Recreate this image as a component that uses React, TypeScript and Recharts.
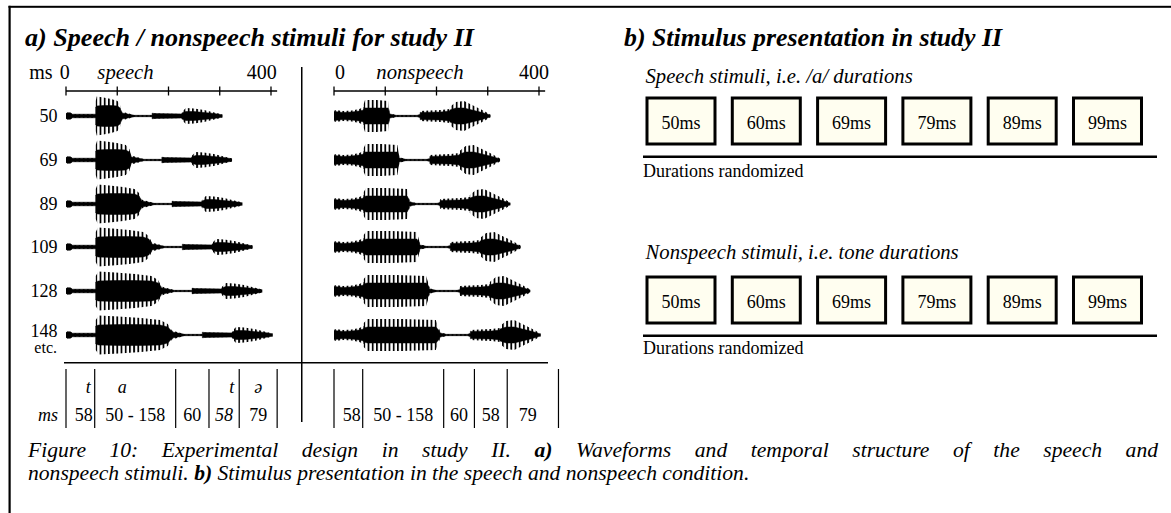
import React from 'react';
import {
  ComposedChart,
  Area,
  Scatter,
  XAxis,
  YAxis,
  BarChart,
  Bar,
  LabelList,
} from 'recharts';

const FONT = "'Liberation Serif', 'Times New Roman', Times, serif";

// ---------------- data ----------------
const VOWEL_DURATIONS = [50, 69, 89, 109, 128, 148];
const ROW_LABELS = ['50', '69', '89', '109', '128', '148'];
const AXIS_TICKS = [0, 100, 200, 300, 400];
const AXIS_MAX = 412;
const TABLE_MAX = 450;
const BURST1_MS = 58;
const CLOSURE_MS = 60;
const BURST2_MS = 58;
const SCHWA_MS = 79;

// segment boundaries (ms) of the table under the waveforms
const SPEECH_BOUNDS = [0, 56, 214, 279, 338, 412];
const NONSPEECH_BOUNDS = [0, 56, 214, 274, 338, 438];
const SPEECH_PHONES = ['t', 'a', '', 't', 'ə'];
const SPEECH_MS = ['58', '50 - 158', '60', '58', '79'];
const NONSPEECH_MS = ['58', '50 - 158', '60', '58', '79'];

const BOX_LABELS = ['50ms', '60ms', '69ms', '79ms', '89ms', '99ms'];

// envelope profiles: [fraction of segment, inner half-amplitude, outer half-amplitude]
const SPEECH_BURST1 = [[0, 2.2, 2.2], [0.04, 3.3, 3.3], [0.14, 3.3, 3.3], [0.22, 1.8, 1.8], [1, 1.8, 1.8]];
const SPEECH_VOWEL = [[0, 9, 15], [0.04, 10, 19.5], [0.3, 10.5, 18.5], [0.6, 10.5, 17], [0.85, 10, 15], [0.95, 8, 11], [1, 4, 5]];
const SPEECH_CLOSURE = [[0, 3, 4.5], [0.12, 2.5, 3.5], [0.3, 1.4, 2], [0.42, 0.7, 0.7], [1, 0.7, 0.7]];
const SPEECH_BURST2 = [[0, 2.8, 2.8], [0.1, 2.4, 2.4], [1, 2.1, 2.1]];
const SPEECH_SCHWA = [[0, 3, 4], [0.1, 4.5, 8], [0.3, 4.5, 7.5], [0.55, 3.5, 6], [0.8, 2.5, 3.5], [1, 1.2, 1.5]];

const TONE_1 = [[0, 3, 4], [0.03, 4.5, 6], [0.3, 3.5, 5], [0.6, 4, 5.5], [0.85, 5, 7], [1, 6, 9]];
const TONE_D = [[0, 7, 12], [0.05, 8, 16], [0.5, 8, 16], [0.95, 8, 15], [1, 4, 5]];
const TONE_GAP = [[0, 2, 2.5], [0.1, 1.5, 2], [0.22, 0.7, 0.7], [0.9, 0.7, 0.7], [1, 1.5, 1.5]];
const TONE_3 = [[0, 3.5, 5], [0.3, 3.8, 5.5], [0.7, 4, 6], [1, 5, 7]];
const TONE_4 = [[0, 6, 9], [0.15, 8, 14], [0.35, 8, 15], [0.55, 6, 11], [0.8, 3.5, 6], [1, 1, 1.5]];

// ---------------- layout ----------------
const PX_PER_MS = 0.5125;
const PLOT_W = AXIS_MAX * PX_PER_MS;
const TABLE_W = TABLE_MAX * PX_PER_MS;
const SPEECH_X0 = 65.7;
const NONSPEECH_X0 = 334.3;
const ROW_TOP_CENTER = 116;
const ROW_GAP = 43.8;
const ROW_H = 44;

type Seg = { dur: number; profile: number[][] };

function buildEnvelope(segs: Seg[]) {
  const pts: { t: number; inner: number[]; outer: number[] }[] = [];
  let start = 0;
  segs.forEach((s) => {
    s.profile.forEach(([f, i, o]) => {
      pts.push({ t: start + f * s.dur, inner: [-i, i], outer: [-o, o] });
    });
    start += s.dur;
  });
  return pts;
}

const speechRows = VOWEL_DURATIONS.map((d) =>
  buildEnvelope([
    { dur: BURST1_MS, profile: SPEECH_BURST1 },
    { dur: d, profile: SPEECH_VOWEL },
    { dur: CLOSURE_MS, profile: SPEECH_CLOSURE },
    { dur: BURST2_MS, profile: SPEECH_BURST2 },
    { dur: SCHWA_MS, profile: SPEECH_SCHWA },
  ])
);

const nonspeechRows = VOWEL_DURATIONS.map((d) =>
  buildEnvelope([
    { dur: BURST1_MS, profile: TONE_1 },
    { dur: d, profile: TONE_D },
    { dur: CLOSURE_MS, profile: TONE_GAP },
    { dur: BURST2_MS, profile: TONE_3 },
    { dur: SCHWA_MS, profile: TONE_4 },
  ])
);

function WaveRow({ data, left, centerY, id }: { data: any[]; left: number; centerY: number; id: string }) {
  return (
    <div style={{ position: 'absolute', left, top: centerY - ROW_H / 2 }}>
      <ComposedChart width={PLOT_W} height={ROW_H} data={data} margin={{ top: 0, right: 0, bottom: 0, left: 0 }}>
        <defs>
          <pattern id={id} width={4.2} height={ROW_H} patternUnits="userSpaceOnUse">
            <rect x={0} y={0} width={1.8} height={ROW_H} fill="#000" />
          </pattern>
        </defs>
        <XAxis dataKey="t" type="number" domain={[0, AXIS_MAX]} hide allowDataOverflow />
        <YAxis type="number" domain={[-ROW_H / 2, ROW_H / 2]} hide allowDataOverflow />
        <Area
          dataKey="outer"
          type="linear"
          stroke="none"
          fill={`url(#${id})`}
          fillOpacity={1}
          isAnimationActive={false}
          dot={false}
          activeDot={false}
        />
        <Area
          dataKey="inner"
          type="linear"
          stroke="#000"
          strokeWidth={0.5}
          fill="#000"
          fillOpacity={1}
          isAnimationActive={false}
          dot={false}
          activeDot={false}
        />
      </ComposedChart>
    </div>
  );
}

function AxisTick(props: any) {
  const { x, y } = props;
  return <line x1={x} x2={x} y1={y - 4.5} y2={y + 4.5} stroke="#000" strokeWidth={1.3} />;
}

function TopAxis({ left }: { left: number }) {
  const pad = 4;
  return (
    <div style={{ position: 'absolute', left: left - pad, top: 55 }}>
      <ComposedChart
        width={PLOT_W + 2 * pad}
        height={46}
        data={AXIS_TICKS.map((t) => ({ t }))}
        margin={{ top: 0, right: pad, bottom: 0, left: pad }}
      >
        <XAxis
          dataKey="t"
          type="number"
          orientation="top"
          domain={[0, AXIS_MAX]}
          ticks={AXIS_TICKS}
          interval={0}
          height={36}
          tickSize={0}
          tickMargin={0}
          tickLine={false}
          axisLine={{ stroke: '#000', strokeWidth: 1.3 }}
          tick={<AxisTick />}
          allowDataOverflow
        />
        <YAxis type="number" domain={[0, 1]} hide />
      </ComposedChart>
    </div>
  );
}

const TABLE_TOP = 369;
const TABLE_H = 59;

function VLineShape(props: any) {
  const { cx } = props;
  if (cx == null) return null;
  return <line x1={cx} x2={cx} y1={0} y2={TABLE_H} stroke="#000" strokeWidth={1.2} />;
}

function CellShape(props: any) {
  const { cx, cy, payload } = props;
  if (cx == null || !payload || !payload.label) return null;
  return (
    <text
      x={cx}
      y={cy + payload.dy}
      textAnchor={payload.anchor}
      fontFamily={FONT}
      fontSize={18}
      fontStyle={payload.italic ? 'italic' : 'normal'}
      fill="#000"
    >
      {payload.label}
    </text>
  );
}

type CellStyle = { align: any; pad?: number; italic?: boolean };

function cellMarks(labels: string[], bounds: number[], styles: CellStyle[], y: number, dy: number) {
  return labels.map((label, i) => {
    const s = styles[i];
    const a = bounds[i];
    const b = bounds[i + 1];
    let t = (a + b) / 2;
    let anchor = 'middle';
    if (s.align === 'end') {
      t = b - (s.pad || 0) / PX_PER_MS;
      anchor = 'end';
    } else if (typeof s.align === 'number') {
      t = a + (b - a) * s.align;
    }
    return { t, y, label, anchor, italic: !!s.italic, dy };
  });
}

function SegmentTable({
  left,
  bounds,
  top,
  bottom,
  topStyle,
  bottomStyle,
}: {
  left: number;
  bounds: number[];
  top: string[] | null;
  bottom: string[];
  topStyle: CellStyle[];
  bottomStyle: CellStyle[];
}) {
  const pad = 3;
  const lines = bounds.map((t) => ({ t, y: 1 }));
  const topCells = top ? cellMarks(top, bounds, topStyle, 1.5, 9.3) : [];
  const bottomCells = cellMarks(bottom, bounds, bottomStyle, 0.5, 7.3);
  return (
    <div style={{ position: 'absolute', left: left - pad, top: TABLE_TOP }}>
      <ComposedChart width={TABLE_W + 2 * pad} height={TABLE_H} margin={{ top: 0, right: pad, bottom: 0, left: pad }}>
        <XAxis dataKey="t" type="number" domain={[0, TABLE_MAX]} hide />
        <YAxis dataKey="y" type="number" domain={[0, 2]} hide />
        <Scatter data={lines} shape={<VLineShape />} isAnimationActive={false} />
        {topCells.length > 0 && <Scatter data={topCells} shape={<CellShape />} isAnimationActive={false} />}
        <Scatter data={bottomCells} shape={<CellShape />} isAnimationActive={false} />
      </ComposedChart>
    </div>
  );
}

function BoxRow({ top }: { top: number }) {
  const data = BOX_LABELS.map((label) => ({ label, v: 1 }));
  return (
    <div style={{ position: 'absolute', left: 638.3, top: top - 3 }}>
      <BarChart
        width={511.8}
        height={52}
        data={data}
        margin={{ top: 3, right: 0, bottom: 3, left: 0 }}
        barCategoryGap={0}
      >
        <XAxis dataKey="label" type="category" hide />
        <YAxis type="number" domain={[0, 1]} hide />
        <Bar dataKey="v" barSize={68} fill="#FFFEF0" stroke="#000" strokeWidth={3} isAnimationActive={false}>
          <LabelList dataKey="label" position="center" fill="#000" fontSize={18} fontFamily={FONT} dy={2} />
        </Bar>
      </BarChart>
    </div>
  );
}

const speechTopStyle: CellStyle[] = [
  { align: 'end', pad: 4, italic: true },
  { align: 0.34, italic: true },
  { align: 0.5 },
  { align: 'end', pad: 5, italic: true },
  { align: 0.5, italic: true },
];
const speechBottomStyle: CellStyle[] = [
  { align: 'end', pad: 2 },
  { align: 0.5 },
  { align: 0.5 },
  { align: 0.5, italic: true },
  { align: 0.5 },
];
const nonspeechBottomStyle: CellStyle[] = [
  { align: 'end', pad: 2 },
  { align: 0.5 },
  { align: 0.5 },
  { align: 0.5 },
  { align: 0.4 },
];

export default function App() {
  const rowCenters = VOWEL_DURATIONS.map((_, i) => ROW_TOP_CENTER + i * ROW_GAP);
  const txt = { fontFamily: FONT, fill: '#000' } as any;
  return (
    <div
      style={{
        position: 'absolute',
        left: 0,
        top: 0,
        width: 1171,
        height: 513,
        background: '#fff',
        overflow: 'hidden',
        fontFamily: FONT,
      }}
    >
      <TopAxis left={SPEECH_X0} />
      <TopAxis left={NONSPEECH_X0} />
      {speechRows.map((d, i) => (
        <WaveRow key={`s${i}`} data={d} left={SPEECH_X0} centerY={rowCenters[i]} id={`sp${i}`} />
      ))}
      {nonspeechRows.map((d, i) => (
        <WaveRow key={`n${i}`} data={d} left={NONSPEECH_X0} centerY={rowCenters[i]} id={`ns${i}`} />
      ))}
      <SegmentTable
        left={SPEECH_X0}
        bounds={SPEECH_BOUNDS}
        top={SPEECH_PHONES}
        bottom={SPEECH_MS}
        topStyle={speechTopStyle}
        bottomStyle={speechBottomStyle}
      />
      <SegmentTable
        left={NONSPEECH_X0}
        bounds={NONSPEECH_BOUNDS}
        top={null}
        bottom={NONSPEECH_MS}
        topStyle={[]}
        bottomStyle={nonspeechBottomStyle}
      />
      <BoxRow top={98} />
      <BoxRow top={276.5} />

      <svg
        width={1171}
        height={513}
        style={{ position: 'absolute', left: 0, top: 0, pointerEvents: 'none' }}
      >
        {/* frame */}
        <rect x={8.5} y={5.8} width={1163} height={2} fill="#000" />
        <rect x={8.5} y={5.8} width={2.2} height={510} fill="#000" />

        {/* titles */}
        <text {...txt} x={25} y={46} fontSize={26} fontWeight="bold" fontStyle="italic" textLength={449} lengthAdjust="spacingAndGlyphs">
          a) Speech / nonspeech stimuli for study II
        </text>
        <text {...txt} x={624} y={46} fontSize={26} fontWeight="bold" fontStyle="italic" textLength={378} lengthAdjust="spacingAndGlyphs">
          b) Stimulus presentation in study II
        </text>

        {/* axis annotations */}
        <text {...txt} x={29.3} y={79} fontSize={20}>ms</text>
        <text {...txt} x={64.7} y={79} fontSize={20} textAnchor="middle">0</text>
        <text {...txt} x={125.5} y={79} fontSize={20.7} fontStyle="italic" textAnchor="middle">speech</text>
        <text {...txt} x={276.7} y={79} fontSize={20} textAnchor="end">400</text>
        <text {...txt} x={340} y={79} fontSize={20} textAnchor="middle">0</text>
        <text {...txt} x={420} y={79} fontSize={20.7} fontStyle="italic" textAnchor="middle">nonspeech</text>
        <text {...txt} x={549} y={79} fontSize={20} textAnchor="end">400</text>

        {/* row labels */}
        {ROW_LABELS.map((l, i) => (
          <text key={l} {...txt} x={57.5} y={i === ROW_LABELS.length - 1 ? rowCenters[i] + 2 : rowCenters[i] + 6} fontSize={18} textAnchor="end">
            {l}
          </text>
        ))}
        <text {...txt} x={57} y={353} fontSize={16} textAnchor="end">etc.</text>

        {/* divider and separator */}
        <rect x={301} y={67} width={1.5} height={355} fill="#000" />
        <rect x={64} y={362} width={484} height={1.5} fill="#000" />
        <text {...txt} x={58} y={420.5} fontSize={18} fontStyle="italic" textAnchor="end">ms</text>

        {/* panel b texts */}
        <text {...txt} x={645.5} y={83} fontSize={20.7} fontStyle="italic">Speech stimuli, i.e. /a/ durations</text>
        <rect x={643} y={155.5} width={514} height={2.5} fill="#000" />
        <text {...txt} x={643} y={177} fontSize={18}>Durations randomized</text>

        <text {...txt} x={645.5} y={259} fontSize={20.7} fontStyle="italic">Nonspeech stimuli, i.e. tone durations</text>
        <rect x={643} y={334.5} width={514} height={2.5} fill="#000" />
        <text {...txt} x={643} y={354} fontSize={18}>Durations randomized</text>
      </svg>

      {/* caption */}
      <div
        style={{
          position: 'absolute',
          left: 28,
          top: 440.4,
          width: 1130,
          fontSize: 21.6,
          lineHeight: '21.6px',
          fontStyle: 'italic',
          textAlign: 'justify',
          textAlignLast: 'justify',
          color: '#000',
        }}
      >
        Figure 10: Experimental design in study II. <b>a)</b> Waveforms and temporal structure of the speech and
      </div>
      <div
        style={{
          position: 'absolute',
          left: 28,
          top: 463.4,
          fontSize: 21.6,
          lineHeight: '21.6px',
          fontStyle: 'italic',
          whiteSpace: 'nowrap',
          color: '#000',
        }}
      >
        nonspeech stimuli. <b>b)</b> Stimulus presentation in the speech and nonspeech condition.
      </div>
    </div>
  );
}
